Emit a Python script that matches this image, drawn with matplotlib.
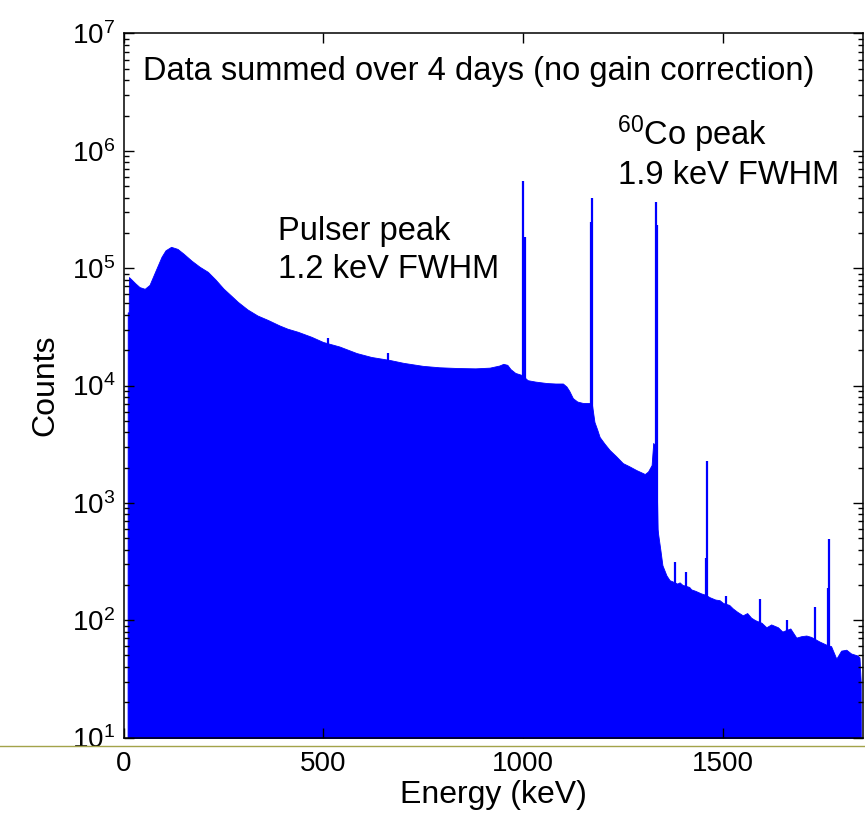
import numpy as np
import matplotlib
matplotlib.use("Agg")
import matplotlib.pyplot as plt
from matplotlib.lines import Line2D

plt.rcParams['font.family'] = ['Liberation Sans', 'DejaVu Sans']
plt.rcParams['mathtext.fontset'] = 'custom'
plt.rcParams['mathtext.rm'] = 'Liberation Sans'
plt.rcParams['mathtext.it'] = 'Liberation Sans'

# continuum (keV, counts)
energy = [0, 10, 10.5, 13, 13.5, 20, 30, 40, 53, 65, 80, 95, 105, 119, 135, 150,
          170, 190, 211, 230, 250, 270, 286, 310, 335, 361, 390, 410, 436, 470,
          499, 540, 583, 620, 666, 700, 749, 790, 834, 880, 916, 940, 950, 960,
          968, 980, 996, 1011, 1030, 1058, 1080, 1099, 1108, 1115, 1124, 1135,
          1149, 1166, 1172, 1178, 1185, 1191, 1203, 1216, 1232, 1249, 1265, 1283,
          1295, 1304, 1312, 1321, 1325, 1332, 1336, 1337, 1343, 1348, 1358, 1366,
          1372, 1385, 1391, 1398, 1415, 1420, 1430, 1445, 1455, 1466, 1480, 1491,
          1500, 1515, 1524, 1535, 1549, 1560, 1570, 1580, 1596, 1608, 1620, 1637,
          1648, 1668, 1683, 1695, 1708, 1720, 1740, 1757, 1770, 1783, 1795, 1808,
          1820, 1836, 1841, 1844, 1845]
counts = [1, 1, 42000, 42000, 84000, 80000, 74000, 69000, 66700, 72000, 95000,
          125000, 142000, 152000, 146000, 133000, 116000, 103000, 93000, 80000,
          67000, 58000, 51600, 44500, 39500, 36200, 32500, 30500, 28700, 26000,
          23500, 21500, 18900, 17500, 16500, 15600, 14700, 14300, 14100, 14000,
          14200, 14800, 15300, 15000, 13800, 12800, 12300, 11100, 10800, 10500,
          10400, 10400, 9800, 9000, 7800, 7300, 7100, 7100, 6800, 4890, 4200,
          3640, 3200, 2820, 2500, 2180, 2050, 1900, 1820, 1760, 1850, 2100, 3240,
          3000, 600, 551, 395, 294, 241, 219, 215, 205, 210, 200, 192, 183, 178,
          169, 165, 157, 150, 148, 140, 135, 126, 118, 110, 115, 105, 100, 95,
          87, 92, 87, 80, 85, 71, 73, 74, 72, 66, 62, 60, 47, 55, 56, 52, 50,
          48, 30, 1]

# narrow lines (keV, counts)
peak_energy = [511, 662, 1000, 1004, 1169, 1173, 1331, 1334, 1379, 1408,
               1458, 1460, 1508, 1591, 1660, 1730, 1762, 1764]
peak_counts = [25500, 19000, 556000, 185000, 249000, 398000, 368000, 234000,
               312, 256, 337, 2280, 161, 153, 101, 129, 187, 490]

fig = plt.figure(figsize=(8.65, 8.19), dpi=100)
ax = fig.add_axes([0.1428, 0.0995, 0.855, 0.8596])

ax.fill_between(energy, counts, 1, color='#0000ff', lw=0.6, edgecolor='#0000ff')
ax.vlines(peak_energy, 1, peak_counts, color='#0000ff', lw=1.6)

ax.set_yscale('log')
ax.set_xlim(0, 1850)
ax.set_ylim(10, 1e7)
ax.set_xticks([0, 500, 1000, 1500])
ax.tick_params(which='both', direction='in', top=True, right=True,
               labelsize=20, width=1)
ax.tick_params(which='major', length=7)
ax.tick_params(which='minor', length=3.5)
ax.tick_params(axis='x', pad=10)
ax.tick_params(axis='y', pad=6)
for s in ax.spines.values():
    s.set_linewidth(1.1)

ax.set_xlabel('Energy (keV)', fontsize=23, labelpad=2)
ax.set_ylabel('Counts', fontsize=23, labelpad=8)

fs = 23.5
ax.text(0.0264, 0.934, 'Data summed over 4 days (no gain correction)',
        transform=ax.transAxes, fontsize=fs, va='baseline')
ax.text(0.209, 0.7067, 'Pulser peak', transform=ax.transAxes, fontsize=fs, va='baseline')
ax.text(0.209, 0.6527, '1.2 keV FWHM', transform=ax.transAxes, fontsize=fs, va='baseline')
ax.text(0.667, 0.8416, r'$^{60}$Co peak', transform=ax.transAxes, fontsize=fs, va='baseline')
ax.text(0.669, 0.786, '1.9 keV FWHM', transform=ax.transAxes, fontsize=fs, va='baseline')

# thin olive rule across the page under the axes
fig.add_artist(Line2D([0, 1], [1 - 746 / 819, 1 - 746 / 819],
                      transform=fig.transFigure, color='#a3a34a', lw=1))

fig.savefig('out.png', dpi=100)
